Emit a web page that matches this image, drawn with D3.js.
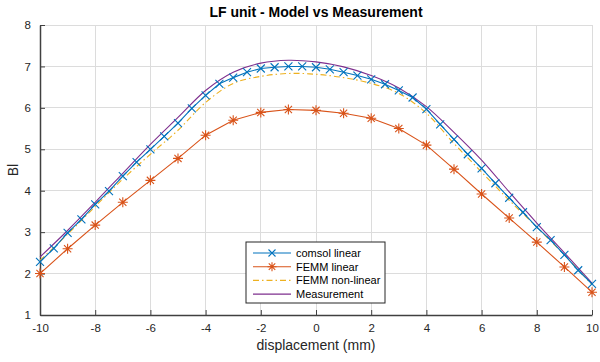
<!DOCTYPE html>
<html><head><meta charset="utf-8">
<script src="https://cdn.jsdelivr.net/npm/d3@7"></script>
<style>body{margin:0;background:#fff}svg{font-family:"Liberation Sans",Arial,sans-serif}</style>
</head><body><svg id="c" width="600" height="362"></svg>
<script>
const titleText = "LF unit - Model vs Measurement";
const xLabel = "displacement (mm)";
const yLabel = "Bl";
const xTicks = [-10,-8,-6,-4,-2,0,2,4,6,8,10];
const yTicks = [1,2,3,4,5,6,7,8];

const xComsol = [-10,-9.5,-9,-8.5,-8,-7.5,-7,-6.5,-6,-5.5,-5,-4.5,-4,-3.5,-3,-2.5,-2,-1.5,-1,-0.5,0,0.5,1,1.5,2,2.5,3,3.5,4,4.5,5,5.5,6,6.5,7,7.5,8,8.5,9,9.5,10];
const comsolLinear = [2.28,2.61,2.98,3.31,3.67,3.99,4.35,4.69,5.0,5.31,5.63,5.99,6.3,6.58,6.73,6.86,6.95,6.98,7.0,7.0,6.98,6.93,6.86,6.78,6.69,6.57,6.42,6.25,5.97,5.6,5.24,4.88,4.54,4.18,3.83,3.48,3.12,2.81,2.45,2.08,1.75];

const xInt = [-10,-9,-8,-7,-6,-5,-4,-3,-2,-1,0,1,2,3,4,5,6,7,8,9,10];
const femmLinear = [2.0,2.6,3.17,3.72,4.25,4.78,5.34,5.7,5.89,5.96,5.94,5.87,5.75,5.5,5.1,4.52,3.92,3.34,2.76,2.16,1.55];
const femmNonLinear = [2.32,2.95,3.62,4.28,4.88,5.46,6.13,6.59,6.76,6.83,6.81,6.73,6.59,6.35,5.87,5.14,4.45,3.77,3.12,2.45,1.73];
const measurement = [2.4,3.04,3.72,4.42,5.12,5.77,6.42,6.86,7.08,7.15,7.11,6.99,6.78,6.48,6.03,5.41,4.74,3.97,3.22,2.5,1.77];

const legendLabels = ["comsol linear","FEMM linear","FEMM non-linear","Measurement"];
const colors = ["#0072BD","#D95319","#EDB120","#7E2F8E"];

const svg = d3.select("#c");
const m = {l:40, r:592, t:25, b:315};
const x = d3.scaleLinear().domain([-10,10]).range([m.l,m.r]);
const y = d3.scaleLinear().domain([1,8]).range([m.b,m.t]);

// grid
svg.append("g").selectAll("line").data(xTicks).join("line")
  .attr("x1",d=>x(d)).attr("x2",d=>x(d)).attr("y1",m.t).attr("y2",m.b)
  .attr("stroke","#dcdcdc").attr("stroke-width",1).attr("shape-rendering","crispEdges");
svg.append("g").selectAll("line").data(yTicks).join("line")
  .attr("y1",d=>y(d)).attr("y2",d=>y(d)).attr("x1",m.l).attr("x2",m.r)
  .attr("stroke","#dcdcdc").attr("stroke-width",1).attr("shape-rendering","crispEdges");

// axes
const fmt = d => String(d);
const xa = svg.append("g").attr("transform",`translate(0,${m.b})`)
  .call(d3.axisBottom(x).tickValues(xTicks).tickFormat(fmt).tickSizeInner(-5).tickSizeOuter(0).tickPadding(9));
const ya = svg.append("g").attr("transform",`translate(${m.l},0)`)
  .call(d3.axisLeft(y).tickValues(yTicks).tickFormat(fmt).tickSizeInner(-5).tickSizeOuter(0).tickPadding(9));
[xa,ya].forEach(a=>{
  a.select(".domain").attr("stroke","#404040").attr("stroke-width",1.5);
  a.selectAll(".tick line").attr("stroke","#404040");
  a.selectAll(".tick text").attr("fill","#262626").style("font-size","11.5px").style("font-family","Liberation Sans, Arial, sans-serif");
});

function pts(xs, ys){ return xs.map((v,i)=>[x(v), y(ys[i])]); }
const lineSmooth = d3.line().curve(d3.curveCatmullRom.alpha(0.5));
const lineStraight = d3.line();

svg.append("path").attr("d", lineSmooth(pts(xInt,measurement)))
  .attr("fill","none").attr("stroke",colors[3]).attr("stroke-width",1.1);
svg.append("path").attr("d", lineSmooth(pts(xInt,femmNonLinear)))
  .attr("fill","none").attr("stroke",colors[2]).attr("stroke-width",1.1).attr("stroke-dasharray","6,3,1.5,3");
svg.append("path").attr("d", lineStraight(pts(xComsol,comsolLinear)))
  .attr("fill","none").attr("stroke",colors[0]).attr("stroke-width",1.1);
svg.append("path").attr("d", lineStraight(pts(xInt,femmLinear)))
  .attr("fill","none").attr("stroke",colors[1]).attr("stroke-width",1.1);

function xMarker(g, cx, cy, s, col){
  g.append("path").attr("d",`M${cx-s},${cy-s}L${cx+s},${cy+s}M${cx-s},${cy+s}L${cx+s},${cy-s}`)
   .attr("stroke",col).attr("stroke-width",1.1).attr("fill","none");
}
function starMarker(g, cx, cy, s, col){
  const d = s*0.72;
  g.append("path").attr("d",`M${cx-s},${cy}L${cx+s},${cy}M${cx},${cy-s}L${cx},${cy+s}M${cx-d},${cy-d}L${cx+d},${cy+d}M${cx-d},${cy+d}L${cx+d},${cy-d}`)
   .attr("stroke",col).attr("stroke-width",1.1).attr("fill","none");
}
const mg = svg.append("g");
xComsol.forEach((v,i)=>xMarker(mg, x(v), y(comsolLinear[i]), 4, colors[0]));
xInt.forEach((v,i)=>starMarker(mg, x(v), y(femmLinear[i]), 5, colors[1]));

// title & labels
svg.append("text").attr("x",x(0)).attr("y",17).attr("text-anchor","middle")
  .style("font-size","14px").style("font-weight","bold").attr("fill","#000").text(titleText);
svg.append("text").attr("x",x(0)).attr("y",350).attr("text-anchor","middle")
  .style("font-size","14px").attr("fill","#262626").text(xLabel);
svg.append("text").attr("transform",`translate(18,${y(4.5)}) rotate(-90)`).attr("text-anchor","middle")
  .style("font-size","14px").attr("fill","#262626").text(yLabel);

// legend
const lg = svg.append("g");
const lx = 246, ly = 242, lw = 139, lh = 61;
lg.append("rect").attr("x",lx).attr("y",ly).attr("width",lw).attr("height",lh)
  .attr("fill","#fff").attr("stroke","#262626").attr("stroke-width",1);
legendLabels.forEach((lab,i)=>{
  const yy = ly + 11 + i*13.7;
  const ln = lg.append("line").attr("x1",lx+7).attr("x2",lx+45).attr("y1",yy).attr("y2",yy)
    .attr("stroke",colors[i]).attr("stroke-width",1.1);
  if(i===2) ln.attr("stroke-dasharray","6,3,1.5,3");
  if(i===0) xMarker(lg, lx+26, yy, 3.5, colors[0]);
  if(i===1) starMarker(lg, lx+26, yy, 4.5, colors[1]);
  lg.append("text").attr("x",lx+50).attr("y",yy+4).style("font-size","11px").attr("fill","#000").text(lab);
});
</script></body></html>
